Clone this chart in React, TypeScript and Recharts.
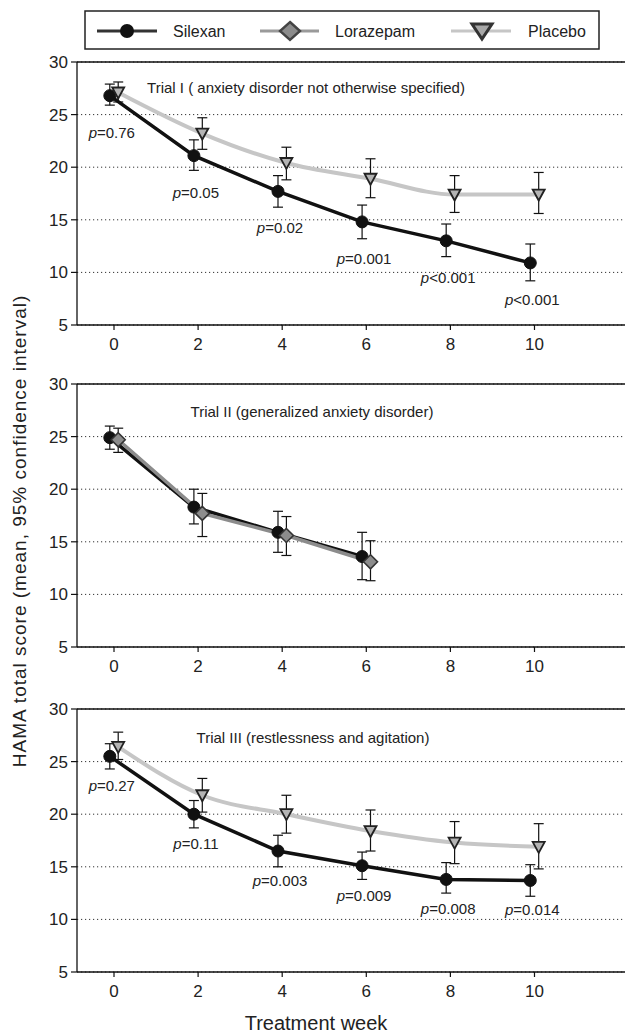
import React from 'react';
import {
  ComposedChart,
  Line,
  XAxis,
  YAxis,
  CartesianGrid,
  ErrorBar,
  LabelList,
  ReferenceLine,
} from 'recharts';

const FONT = '"Liberation Sans", Arial, Helvetica, sans-serif';

// Weeks of treatment
const weeks = [0, 2, 4, 6, 8, 10];
const weeksTrial2 = [0, 2, 4, 6];
const scoreTicks = [5, 10, 15, 20, 25, 30];

// Trial I — Silexan vs placebo
const silexanMean1 = [26.8, 21.1, 17.7, 14.8, 13.0, 10.9];
const silexanLo1 = [25.9, 19.7, 16.2, 13.2, 11.5, 9.2];
const silexanHi1 = [27.9, 22.6, 19.2, 16.4, 14.6, 12.7];
const placeboMean1 = [27.1, 23.2, 20.4, 18.9, 17.4, 17.4];
const placeboLo1 = [26.2, 21.7, 18.8, 17.1, 15.7, 15.6];
const placeboHi1 = [28.1, 24.7, 21.9, 20.8, 19.2, 19.5];
const pValues1 = ['=0.76', '=0.05', '=0.02', '=0.001', '<0.001', '<0.001'];

// Trial II — Silexan vs lorazepam
const silexanMean2 = [24.9, 18.3, 15.9, 13.6];
const silexanLo2 = [23.8, 16.7, 14.0, 11.4];
const silexanHi2 = [26.0, 20.0, 17.9, 15.9];
const lorazepamMean2 = [24.7, 17.7, 15.6, 13.1];
const lorazepamLo2 = [23.5, 15.5, 13.7, 11.3];
const lorazepamHi2 = [25.8, 19.6, 17.4, 15.1];

// Trial III — Silexan vs placebo
const silexanMean3 = [25.5, 20.0, 16.5, 15.1, 13.8, 13.7];
const silexanLo3 = [24.3, 18.7, 15.0, 13.8, 12.5, 12.2];
const silexanHi3 = [26.7, 21.3, 18.0, 16.4, 15.4, 15.2];
const placeboMean3 = [26.4, 21.8, 20.0, 18.4, 17.3, 16.9];
const placeboLo3 = [25.2, 20.2, 18.2, 16.5, 15.3, 14.8];
const placeboHi3 = [27.8, 23.4, 21.8, 20.4, 19.3, 19.1];
const pValues3 = ['=0.27', '=0.11', '=0.003', '=0.009', '=0.008', '=0.014'];

interface Point {
  x: number;
  y: number;
  err: [number, number];
  p?: string;
}

// groups are nudged apart along x so the error bars don't overlap
const buildSeries = (
  xs: number[],
  mean: number[],
  lo: number[],
  hi: number[],
  shift: number,
  p?: string[],
): Point[] =>
  xs.map((w, i) => ({
    x: w + shift,
    y: mean[i],
    err: [mean[i] - lo[i], hi[i] - mean[i]],
    p: p ? p[i] : undefined,
  }));

const CircleDot = (props: any) => {
  const { cx, cy } = props;
  if (cx == null || cy == null) return null;
  return <circle key={props.key} cx={cx} cy={cy} r={6} fill="#111" stroke="#111" strokeWidth={1} />;
};

const TriangleDot = (props: any) => {
  const { cx, cy } = props;
  if (cx == null || cy == null) return null;
  return (
    <path
      key={props.key}
      d={`M${cx - 6},${cy - 5} L${cx + 6},${cy - 5} L${cx},${cy + 6} Z`}
      fill="#b4b4b4"
      stroke="#222"
      strokeWidth={1.8}
    />
  );
};

const DiamondDot = (props: any) => {
  const { cx, cy } = props;
  if (cx == null || cy == null) return null;
  return (
    <path
      key={props.key}
      d={`M${cx},${cy - 7} L${cx + 7},${cy} L${cx},${cy + 7} L${cx - 7},${cy} Z`}
      fill="#8c8c8c"
      stroke="#333"
      strokeWidth={1.6}
    />
  );
};

const makePLabel = (offset: number) => (props: any) => {
  const { x, y, value } = props;
  if (x == null || y == null || value == null) return null;
  return (
    <text
      x={x + 2}
      y={y + offset}
      textAnchor="middle"
      fontSize={15}
      fontFamily={FONT}
      fill="#222"
    >
      <tspan fontStyle="italic">p</tspan>
      {value}
    </text>
  );
};

interface PanelProps {
  top: number;
  silexan: Point[];
  other: Point[];
  otherKind: 'placebo' | 'lorazepam';
  pOffset?: number;
}

const Panel: React.FC<PanelProps> = ({ top, silexan, other, otherKind, pOffset }) => (
  <div style={{ position: 'absolute', left: 0, top }}>
    <ComposedChart width={627} height={303} margin={{ top: 10, right: 0, bottom: 0, left: 0 }}>
      <CartesianGrid vertical={false} stroke="#333" strokeDasharray="1.2 2.8" />
      <XAxis
        type="number"
        dataKey="x"
        domain={[-0.88, 12.2]}
        ticks={weeks}
        allowDataOverflow
        height={30}
        tickSize={5}
        tickMargin={8}
        axisLine={{ stroke: '#111', strokeWidth: 1.3 }}
        tickLine={{ stroke: '#111', strokeWidth: 1.2 }}
        tick={{ fill: '#222', fontSize: 17, fontFamily: FONT }}
      />
      <YAxis
        type="number"
        domain={[5, 30]}
        ticks={scoreTicks}
        width={77}
        tickSize={6}
        tickMargin={3}
        axisLine={{ stroke: '#111', strokeWidth: 1.3 }}
        tickLine={{ stroke: '#111', strokeWidth: 1.2 }}
        tick={{ fill: '#222', fontSize: 17, fontFamily: FONT }}
      />
      <ReferenceLine y={30} stroke="#111" strokeWidth={1.3} />
      <Line
        data={silexan}
        dataKey="y"
        type="linear"
        stroke="#111"
        strokeWidth={3.5}
        dot={CircleDot}
        activeDot={false}
        isAnimationActive={false}
      >
        <ErrorBar dataKey="err" direction="y" width={5} stroke="#111" strokeWidth={1.2} />
        {pOffset != null && <LabelList dataKey="p" content={makePLabel(pOffset)} />}
      </Line>
      <Line
        data={other}
        dataKey="y"
        type={otherKind === 'placebo' ? 'monotone' : 'linear'}
        stroke={otherKind === 'placebo' ? '#c6c6c6' : '#8c8c8c'}
        strokeWidth={otherKind === 'placebo' ? 4 : 3.5}
        dot={otherKind === 'placebo' ? TriangleDot : DiamondDot}
        activeDot={false}
        isAnimationActive={false}
      >
        <ErrorBar dataKey="err" direction="y" width={5} stroke="#111" strokeWidth={1.2} />
      </Line>
    </ComposedChart>
  </div>
);

const Legend: React.FC = () => (
  <svg
    width={520}
    height={44}
    style={{ position: 'absolute', left: 84, top: 9 }}
    fontFamily={FONT}
  >
    <rect x={1} y={2} width={514} height={38} fill="#fff" stroke="#222" strokeWidth={1.5} />
    <line x1={13} y1={22} x2={73} y2={22} stroke="#333" strokeWidth={3} />
    <circle cx={43} cy={22} r={7} fill="#111" />
    <text x={89} y={28} fontSize={16} fill="#222">Silexan</text>
    <line x1={176} y1={22} x2={235} y2={22} stroke="#9a9a9a" strokeWidth={3} />
    <path d="M206,13 L216,22 L206,31 L196,22 Z" fill="#8c8c8c" stroke="#444" strokeWidth={2.4} />
    <text x={251} y={28} fontSize={16} fill="#222">Lorazepam</text>
    <line x1={367} y1={22} x2={427} y2={22} stroke="#c6c6c6" strokeWidth={3} />
    <path d="M388,15 L408,15 L398,30 Z" fill="#a8a8a8" stroke="#333" strokeWidth={3} />
    <text x={444} y={28} fontSize={16} fill="#222">Placebo</text>
  </svg>
);

const titleStyle = (cx: number, cy: number): React.CSSProperties => ({
  position: 'absolute',
  left: cx,
  top: cy,
  transform: 'translate(-50%, -50%)',
  whiteSpace: 'nowrap',
  fontFamily: FONT,
  fontSize: 15,
  color: '#222',
});

export default function App() {
  const silexan1 = buildSeries(weeks, silexanMean1, silexanLo1, silexanHi1, -0.1, pValues1);
  const placebo1 = buildSeries(weeks, placeboMean1, placeboLo1, placeboHi1, 0.1);
  const silexan2 = buildSeries(weeksTrial2, silexanMean2, silexanLo2, silexanHi2, -0.1);
  const lorazepam2 = buildSeries(weeksTrial2, lorazepamMean2, lorazepamLo2, lorazepamHi2, 0.1);
  const silexan3 = buildSeries(weeks, silexanMean3, silexanLo3, silexanHi3, -0.1, pValues3);
  const placebo3 = buildSeries(weeks, placeboMean3, placeboLo3, placeboHi3, 0.1);

  return (
    <div
      style={{
        position: 'absolute',
        left: 0,
        top: 0,
        width: 625,
        height: 1034,
        overflow: 'hidden',
        background: '#fff',
      }}
    >
      <Legend />
      <Panel top={52} silexan={silexan1} other={placebo1} otherKind="placebo" pOffset={42} />
      <Panel top={374} silexan={silexan2} other={lorazepam2} otherKind="lorazepam" />
      <Panel top={699} silexan={silexan3} other={placebo3} otherKind="placebo" pOffset={35} />

      <div style={titleStyle(306, 87)}>Trial I ( anxiety disorder not otherwise specified)</div>
      <div style={titleStyle(312, 411)}>Trial II (generalized anxiety disorder)</div>
      <div style={titleStyle(313, 737)}>Trial III (restlessness and agitation)</div>

      <div
        style={{
          position: 'absolute',
          left: 20,
          top: 531,
          transform: 'translate(-50%, -50%) rotate(-90deg)',
          whiteSpace: 'nowrap',
          fontFamily: FONT,
          fontSize: 19,
          letterSpacing: 1,
          color: '#222',
        }}
      >
        HAMA total score (mean, 95% confidence interval)
      </div>
      <div
        style={{
          position: 'absolute',
          left: 316,
          top: 1023,
          transform: 'translate(-50%, -50%)',
          whiteSpace: 'nowrap',
          fontFamily: FONT,
          fontSize: 20,
          color: '#222',
        }}
      >
        Treatment week
      </div>
    </div>
  );
}
